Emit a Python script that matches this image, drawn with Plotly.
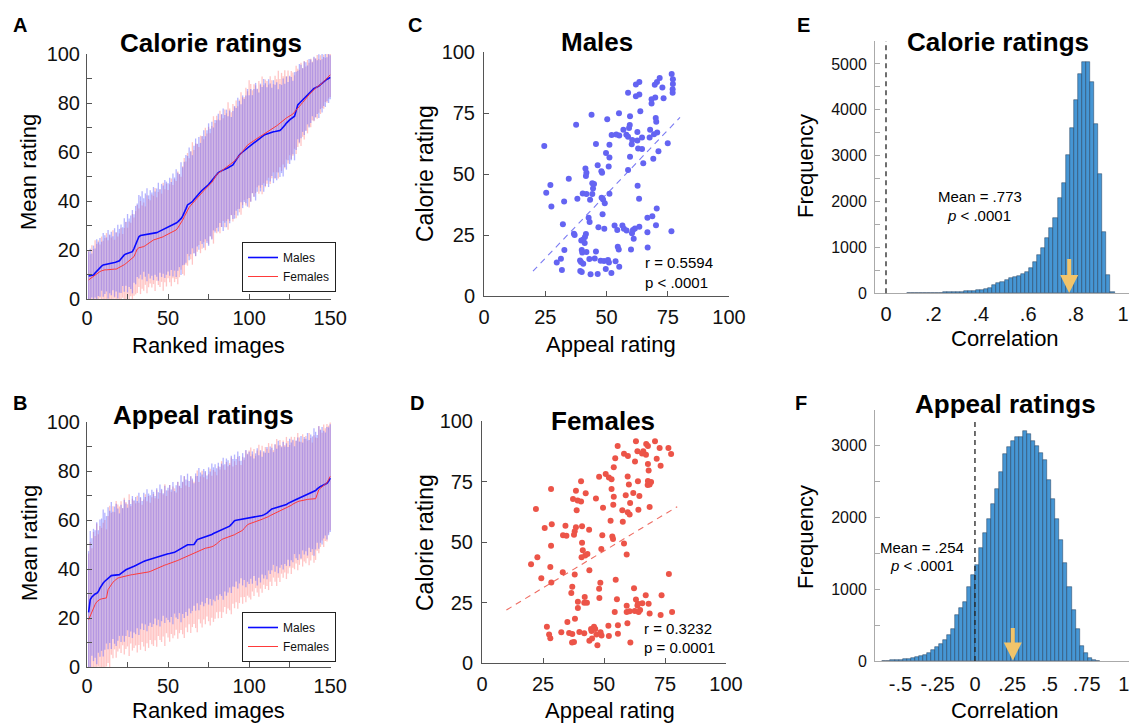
import plotly.graph_objects as go

# ---------------- DATA ----------------
# Panel A: calorie ratings, ranked images (mean and SD per image)
calorie_males_mean = [
    9.4, 9.5, 9.6, 9.8, 10.6, 11.4, 12.2, 12.9, 13.4, 13.9,
    14.0, 14.1, 14.2, 14.3, 14.5, 14.6, 14.9, 15.1, 15.3, 15.6,
    16.4, 17.3, 18.0, 18.4, 18.7, 18.9, 19.1, 19.3, 20.6, 22.0,
    24.0, 25.4, 25.9, 26.0, 26.1, 26.1, 26.2, 26.3, 26.4, 26.5,
    26.7, 26.9, 27.1, 27.4, 27.7, 28.0, 28.3, 28.6, 28.9, 29.2,
    29.5, 29.8, 30.2, 30.6, 31.0, 31.5, 32.0, 32.8, 33.8, 35.0,
    36.8, 38.4, 38.8, 39.3, 39.7, 40.6, 41.5, 42.4, 43.1, 43.7,
    44.4, 44.9, 45.4, 45.9, 46.7, 47.5, 48.3, 49.0, 50.1, 51.0,
    51.6, 52.0, 52.4, 52.8, 53.1, 53.3, 53.6, 53.9, 54.3, 54.7,
    55.8, 57.0, 58.1, 58.8, 59.5, 60.1, 60.6, 61.1, 61.7, 62.2,
    62.7, 63.2, 63.7, 64.2, 64.8, 65.3, 65.9, 66.5, 66.8, 67.1,
    67.4, 67.7, 68.0, 68.2, 68.3, 68.4, 68.5, 68.6, 68.8, 69.4,
    70.0, 70.9, 71.8, 72.6, 73.1, 73.6, 74.1, 74.6, 76.8, 79.2,
    79.9, 80.6, 81.2, 81.9, 82.6, 83.3, 84.0, 84.8, 85.6, 85.9,
    86.2, 86.5, 86.9, 87.5, 88.1, 88.8, 89.4, 89.7, 90.0, 90.5]
calorie_females_mean = [
    7.8, 8.3, 8.9, 9.4, 10.0, 10.5, 10.9, 11.2, 11.5, 11.8,
    11.9, 11.9, 12.0, 12.0, 12.1, 12.1, 12.2, 12.2, 12.5, 12.8,
    13.1, 13.5, 14.0, 14.5, 15.1, 15.6, 16.1, 16.7, 17.3, 18.9,
    20.4, 20.9, 21.0, 21.2, 21.4, 21.8, 22.3, 22.8, 23.3, 23.7,
    24.1, 24.3, 24.5, 24.7, 24.9, 25.0, 25.4, 25.8, 26.1, 26.5,
    26.8, 27.2, 27.5, 27.9, 28.2, 29.0, 29.9, 30.9, 32.2, 33.6,
    35.1, 36.6, 37.4, 38.2, 39.0, 39.8, 40.5, 41.3, 42.0, 42.7,
    43.5, 44.2, 44.9, 45.6, 46.3, 46.7, 47.6, 48.6, 49.8, 50.8,
    51.3, 51.8, 52.4, 52.8, 53.3, 53.8, 54.3, 54.8, 55.2, 55.6,
    56.3, 57.0, 57.7, 58.4, 59.4, 60.3, 61.3, 62.2, 62.8, 63.3,
    63.8, 64.2, 64.7, 65.2, 65.6, 66.0, 66.4, 66.8, 67.2, 67.6,
    68.0, 68.5, 68.9, 69.3, 69.7, 70.1, 70.7, 71.2, 71.8, 72.3,
    72.9, 73.4, 73.9, 74.3, 74.7, 75.1, 75.5, 76.3, 77.2, 78.0,
    78.5, 79.4, 80.2, 81.1, 81.9, 82.6, 83.4, 84.1, 84.9, 85.6,
    86.1, 86.6, 87.0, 87.5, 88.0, 88.7, 89.4, 90.1, 90.8, 91.5]
calorie_males_sd = [
    10, 11, 9, 12, 10, 13, 11, 12, 10, 13,
    12, 11, 14, 12, 13, 11, 14, 12, 15, 13,
    14, 12, 15, 13, 16, 14, 15, 17, 14, 16,
    15, 17, 16, 18, 15, 17, 19, 16, 18, 17,
    19, 17, 18, 20, 17, 19, 18, 20, 19, 18,
    20, 18, 21, 19, 22, 20, 19, 23, 20, 21,
    22, 20, 23, 21, 19, 22, 24, 21, 23, 20,
    22, 24, 21, 23, 25, 22, 24, 21, 23, 22,
    24, 21, 23, 25, 22, 24, 21, 23, 20, 22,
    23, 21, 24, 22, 20, 23, 21, 22, 24, 21,
    23, 20, 22, 24, 21, 19, 22, 20, 23, 21,
    19, 22, 20, 18, 21, 19, 20, 17, 19, 18,
    20, 17, 19, 16, 18, 17, 15, 18, 16, 14,
    16, 15, 13, 15, 14, 12, 14, 13, 11, 13,
    12, 11, 13, 10, 12, 10, 11, 9, 10, 9]
calorie_females_sd = [
    12, 10, 13, 11, 14, 12, 13, 11, 14, 12,
    13, 15, 12, 14, 13, 16, 12, 15, 13, 14,
    16, 13, 15, 17, 14, 16, 15, 18, 16, 17,
    18, 16, 19, 17, 18, 16, 20, 18, 17, 19,
    18, 21, 17, 19, 20, 18, 22, 19, 21, 18,
    20, 22, 19, 21, 20, 23, 21, 19, 22, 24,
    21, 23, 20, 22, 25, 21, 23, 22, 20, 24,
    23, 21, 25, 22, 24, 21, 23, 26, 22, 24,
    22, 25, 23, 21, 24, 22, 26, 23, 21, 24,
    22, 24, 21, 23, 25, 22, 21, 24, 22, 26,
    24, 21, 23, 22, 20, 23, 21, 24, 20, 22,
    21, 19, 22, 20, 18, 21, 19, 22, 18, 20,
    18, 20, 17, 19, 16, 18, 17, 15, 18, 16,
    15, 17, 14, 16, 13, 15, 13, 14, 12, 13,
    12, 13, 11, 12, 10, 11, 9, 10, 9, 9]

# Panel B: appeal ratings, ranked images
appeal_males_mean = [
    22.3, 27.5, 28.6, 29.4, 29.8, 30.1, 30.8, 32.2, 33.6, 34.3,
    35.0, 35.6, 36.2, 36.8, 37.3, 37.4, 37.5, 37.6, 37.7, 37.7,
    38.2, 38.8, 39.3, 39.7, 40.0, 40.2, 40.5, 40.8, 41.1, 41.4,
    41.8, 42.1, 42.4, 42.8, 43.1, 43.4, 43.6, 43.8, 44.1, 44.3,
    44.5, 44.8, 45.0, 45.3, 45.5, 45.7, 45.9, 46.0, 46.1, 46.2,
    46.3, 46.4, 46.5, 46.8, 47.2, 47.6, 48.0, 48.3, 48.6, 49.0,
    49.5, 49.9, 49.9, 49.9, 49.9, 50.0, 51.0, 52.0, 52.2, 52.4,
    52.6, 52.8, 53.0, 53.2, 53.5, 53.8, 54.1, 54.5, 54.8, 55.1,
    55.4, 55.7, 56.0, 56.4, 56.8, 57.1, 57.4, 57.5, 58.2, 58.9,
    59.7, 59.9, 60.0, 60.1, 60.2, 60.3, 60.5, 60.6, 60.8, 60.9,
    61.0, 61.0, 61.1, 61.2, 61.3, 61.4, 61.5, 61.8, 62.1, 62.4,
    62.8, 63.4, 64.0, 64.5, 64.7, 64.9, 65.1, 65.3, 65.5, 65.7,
    65.8, 66.0, 66.3, 66.8, 67.2, 67.6, 67.8, 68.1, 68.4, 68.7,
    69.0, 69.3, 69.6, 69.9, 70.2, 70.5, 70.7, 70.9, 71.1, 71.4,
    72.0, 72.7, 73.3, 73.7, 74.0, 74.4, 74.7, 75.0, 75.8, 77.1]
appeal_females_mean = [
    19.3, 21.0, 22.5, 24.1, 25.5, 26.6, 27.2, 27.6, 27.8, 27.9,
    28.0, 28.2, 31.6, 32.8, 34.0, 34.6, 35.2, 35.8, 36.3, 36.5,
    36.7, 36.9, 37.1, 37.3, 37.4, 37.5, 37.6, 37.7, 37.8, 37.8,
    37.9, 38.0, 38.0, 38.2, 38.4, 38.5, 38.7, 38.8, 39.0, 39.3,
    39.6, 39.9, 40.3, 40.7, 41.0, 41.2, 41.4, 41.6, 41.8, 42.0,
    42.3, 42.5, 42.7, 42.9, 43.2, 43.5, 43.8, 44.1, 44.4, 44.8,
    45.1, 45.2, 45.5, 45.9, 46.3, 46.6, 46.9, 47.2, 47.5, 47.8,
    48.1, 48.4, 48.5, 48.6, 48.7, 48.9, 49.1, 49.4, 49.7, 50.3,
    50.9, 51.6, 52.0, 52.3, 52.5, 52.7, 52.9, 53.2, 53.5, 53.8,
    54.0, 54.4, 54.8, 55.1, 55.5, 55.8, 56.6, 57.4, 58.1, 58.4,
    58.6, 58.8, 59.0, 59.2, 59.4, 59.7, 60.0, 60.3, 60.6, 60.8,
    61.1, 61.4, 61.8, 62.1, 62.5, 62.8, 63.1, 63.4, 63.7, 64.1,
    64.4, 64.6, 64.9, 65.2, 65.6, 66.0, 66.5, 66.9, 67.2, 67.5,
    67.7, 67.9, 68.0, 68.1, 68.3, 68.4, 68.5, 68.5, 68.6, 68.6,
    68.7, 70.5, 72.4, 73.0, 73.6, 74.0, 74.4, 75.2, 76.5, 77.8]
appeal_males_sd = [
    25, 28, 24, 27, 26, 29, 25, 28, 27, 30,
    28, 26, 29, 27, 30, 26, 28, 29, 27, 25,
    28, 26, 29, 27, 25, 28, 26, 29, 27, 28,
    26, 29, 27, 25, 28, 26, 29, 27, 26, 28,
    27, 25, 28, 26, 29, 27, 25, 28, 26, 27,
    28, 26, 29, 25, 27, 28, 26, 30, 27, 29,
    27, 29, 26, 28, 27, 25, 28, 26, 29, 27,
    26, 28, 27, 25, 28, 26, 29, 27, 28, 26,
    28, 26, 27, 29, 26, 28, 27, 25, 28, 26,
    27, 25, 28, 26, 24, 27, 25, 28, 26, 27,
    25, 27, 24, 26, 28, 25, 27, 24, 26, 25,
    27, 24, 26, 25, 23, 26, 24, 27, 25, 24,
    26, 24, 25, 23, 26, 24, 25, 22, 24, 25,
    23, 25, 22, 24, 23, 25, 22, 24, 23, 26,
    24, 22, 25, 23, 24, 22, 21, 23, 22, 22]
appeal_females_sd = [
    27, 30, 26, 31, 28, 32, 27, 30, 29, 31,
    32, 28, 30, 33, 29, 31, 28, 32, 30, 29,
    31, 28, 32, 30, 29, 33, 28, 31, 30, 29,
    32, 29, 31, 28, 30, 32, 29, 31, 28, 30,
    31, 29, 32, 28, 30, 31, 29, 33, 28, 30,
    32, 29, 31, 30, 28, 32, 30, 29, 31, 33,
    29, 31, 28, 32, 30, 29, 31, 33, 28, 30,
    32, 29, 31, 28, 30, 32, 29, 31, 30, 28,
    31, 29, 32, 30, 28, 31, 29, 30, 32, 28,
    30, 28, 31, 29, 27, 30, 28, 31, 29, 30,
    31, 28, 30, 27, 29, 31, 28, 30, 27, 29,
    28, 30, 27, 29, 26, 28, 30, 27, 29, 26,
    28, 26, 29, 27, 25, 28, 26, 27, 25, 28,
    26, 24, 27, 25, 26, 24, 27, 25, 23, 26,
    25, 23, 26, 24, 22, 25, 23, 24, 22, 22]
image_rank = list(range(1, 151))

# Panel C: males, (appeal, calorie) per image
males_points = [
    (76.6, 91.0), (77.1, 88.8), (77.1, 86.9), (77.0, 84.7), (77.0, 83.3),
    (71.7, 89.3), (70.6, 87.7), (69.7, 86.6), (72.8, 85.5), (63.4, 87.7),
    (62.0, 86.7), (58.8, 83.3), (63.4, 82.6), (62.0, 81.9), (69.9, 81.4),
    (68.4, 80.6), (68.4, 78.9), (73.3, 81.0), (63.8, 75.7), (55.1, 74.9),
    (43.9, 74.3), (50.3, 72.4), (37.6, 70.2), (59.6, 73.7), (70.1, 73.0),
    (70.3, 71.4), (59.5, 70.1), (59.2, 68.9), (56.9, 68.1), (55.2, 65.8),
    (52.1, 66.0), (58.1, 66.1), (58.8, 65.3), (62.6, 67.2), (64.5, 65.0),
    (67.8, 68.1), (70.7, 67.0), (69.4, 66.3), (60.5, 63.9), (62.6, 63.7),
    (45.7, 62.3), (51.2, 62.0), (24.6, 61.5), (60.3, 62.2), (62.9, 60.4),
    (64.5, 60.2), (75.0, 62.6), (71.2, 59.3), (49.8, 58.6), (51.2, 56.8),
    (59.6, 57.1), (69.1, 56.3), (65.0, 54.4), (46.4, 53.6), (50.9, 53.1),
    (58.8, 51.6), (41.4, 52.3), (41.8, 50.5), (47.9, 51.1), (48.2, 50.5),
    (41.6, 49.2), (34.6, 48.1), (27.1, 45.5), (44.2, 46.2), (44.9, 45.9),
    (62.7, 45.2), (25.4, 42.3), (44.5, 44.1), (40.3, 42.0), (41.8, 41.8),
    (44.2, 41.8), (38.1, 39.9), (43.3, 39.4), (48.0, 40.3), (48.6, 39.6),
    (51.2, 41.9), (63.3, 39.9), (32.7, 38.7), (49.3, 38.0), (27.5, 36.7),
    (42.7, 32.1), (43.1, 30.3), (48.4, 33.5), (70.5, 35.9), (66.7, 32.1),
    (68.7, 32.7), (32.2, 29.4), (46.7, 28.2), (49.1, 27.6), (53.3, 28.9),
    (54.4, 27.0), (56.5, 28.9), (57.1, 27.6), (58.2, 26.8), (60.8, 27.0),
    (61.6, 27.7), (60.4, 25.7), (61.1, 23.5), (63.4, 28.4), (66.7, 26.1),
    (70.2, 29.0), (76.5, 26.5), (36.7, 25.5), (37.0, 25.0), (41.6, 25.4),
    (41.2, 24.2), (40.5, 23.2), (39.7, 22.7), (32.8, 18.9), (39.9, 18.9),
    (40.1, 17.8), (41.8, 18.0), (45.7, 18.2), (54.6, 20.2), (55.0, 19.1),
    (60.0, 19.1), (66.8, 19.9), (31.4, 15.3), (29.7, 13.7), (31.8, 10.7),
    (39.2, 14.6), (39.6, 13.9), (40.5, 13.2), (43.0, 15.2), (45.2, 15.4),
    (47.6, 14.4), (49.0, 14.3), (50.6, 14.8), (51.0, 13.7), (53.7, 14.2),
    (55.2, 12.0), (49.7, 11.1), (52.0, 9.4), (39.3, 10.2), (39.9, 9.8),
    (43.5, 8.9), (46.4, 9.0), (41.1, 21.7), (67.6, 65.0), (54.0, 66.2)]
males_fit_x = [20, 80]
males_fit_y = [10.2, 73.2]

# Panel D: females, (appeal, calorie) per image
females_points = [
    (63.1, 91.6), (55.6, 89.7), (67.3, 90.5), (68.0, 89.7), (70.9, 91.6),
    (76.4, 88.8), (77.5, 86.4), (72.8, 88.8), (63.7, 87.5), (66.1, 87.5),
    (65.6, 86.6), (67.2, 86.1), (58.2, 86.5), (59.8, 85.5), (54.6, 84.6),
    (62.7, 83.3), (68.0, 82.2), (71.6, 84.4), (73.2, 81.5), (54.0, 80.9),
    (68.3, 79.5), (50.7, 78.1), (48.0, 77.0), (52.0, 76.7), (53.1, 75.9),
    (59.7, 77.1), (63.9, 75.1), (68.0, 75.2), (69.3, 74.8), (68.7, 73.8),
    (67.9, 73.6), (40.6, 75.1), (60.2, 73.8), (53.1, 71.9), (28.3, 71.9),
    (38.5, 71.2), (42.5, 70.1), (37.3, 67.8), (39.2, 67.1), (40.6, 66.7),
    (46.7, 68.0), (54.0, 68.7), (58.9, 69.3), (62.0, 70.2), (64.5, 69.0),
    (53.8, 65.4), (60.7, 66.1), (49.6, 64.2), (57.5, 63.1), (59.7, 62.3),
    (60.5, 61.4), (64.1, 63.3), (68.7, 64.5), (38.8, 63.1), (22.1, 63.6),
    (52.7, 58.8), (57.7, 58.4), (25.7, 55.8), (28.6, 57.3), (34.2, 56.7),
    (38.5, 56.1), (41.0, 56.5), (43.9, 55.1), (33.2, 52.8), (34.6, 52.6),
    (38.0, 54.4), (37.7, 53.0), (49.3, 52.8), (53.4, 52.3), (53.7, 51.2),
    (41.0, 49.7), (58.2, 49.4), (28.3, 48.5), (41.3, 46.6), (48.9, 47.1),
    (59.3, 44.8), (43.2, 45.0), (42.3, 44.4), (40.8, 43.7), (22.7, 43.7),
    (20.1, 40.8), (28.0, 39.7), (33.1, 37.5), (38.0, 36.6), (44.0, 38.3),
    (24.3, 35.0), (28.4, 33.3), (48.5, 33.2), (54.8, 34.4), (76.6, 36.8),
    (37.0, 31.5), (48.0, 30.7), (62.3, 30.9), (36.6, 28.9), (42.1, 27.3),
    (39.3, 25.3), (41.9, 24.9), (43.0, 24.9), (48.1, 26.9), (55.3, 26.3),
    (63.1, 26.2), (67.1, 28.0), (73.6, 28.0), (59.3, 23.7), (63.9, 24.5),
    (65.7, 24.7), (63.7, 23.8), (68.3, 24.5), (39.3, 22.7), (54.4, 21.1),
    (59.3, 21.1), (60.5, 21.4), (62.6, 21.5), (64.8, 21.9), (64.2, 21.1),
    (68.7, 20.5), (73.2, 19.8), (77.9, 21.1), (35.0, 16.9), (38.1, 18.3),
    (26.6, 15.0), (45.9, 15.0), (44.7, 14.1), (44.9, 13.2), (51.8, 15.4),
    (55.7, 15.6), (59.6, 16.4), (27.5, 11.8), (28.0, 10.2), (32.5, 12.7),
    (35.7, 12.4), (37.0, 12.0), (39.9, 12.8), (41.9, 12.3), (46.4, 14.0),
    (46.9, 11.8), (48.6, 12.7), (49.0, 11.4), (52.0, 11.2), (55.7, 12.1),
    (44.0, 9.2), (45.1, 10.1), (47.3, 7.3), (36.9, 8.5), (37.7, 8.7),
    (60.8, 8.5)]
females_fit_x = [10, 80]
females_fit_y = [21.9, 64.6]

# Panel E: permutation correlations, calorie ratings
calorie_bin_start = 0.0872
calorie_bin_width = 0.0172
calorie_counts = [
    2, 3, 4, 5, 7, 9, 11, 13, 16, 19, 22, 26, 30, 35, 40, 46, 53, 62,
    73, 87, 109, 182, 225, 254, 291, 327, 349, 385, 421, 472, 560, 690,
    836, 996, 1214, 1432, 1650, 2071, 2405, 3016, 3612, 4215, 4782, 5051,
    5051, 4615, 3684, 2594, 1344, 400, 25]
calorie_mean_r = 0.773

# Panel F: permutation correlations, appeal ratings
appeal_bin_start = -0.621
appeal_bin_width = 0.027
appeal_counts = [
    3, 5, 8, 12, 17, 24, 32, 42, 55, 70, 90, 115, 150, 190, 235, 290, 360,
    449, 646, 740, 819, 1034, 1195, 1333, 1570, 1778, 1986, 2195, 2403,
    2634, 2890, 2990, 3070, 3130, 3130, 3210, 3167, 3070, 3005, 2898, 2797,
    2519, 2264, 1986, 1694, 1361, 1037, 713, 444, 204, 111, 42, 18, 5]
appeal_mean_r = 0.254

# ---------------- FIGURE ----------------
W, H = 1129, 724
FONT = "Liberation Sans"

def xd(a, b):
    return [a / W, min(b / W, 1.0)]

def yd(top, bottom):
    return [1 - bottom / H, 1 - top / H]

BLUE_BAR = "rgba(105,105,255,0.50)"
RED_BAR = "rgba(255,110,110,0.40)"
BLUE_LINE = "#0a0aff"
RED_LINE = "#ff3a3a"
PT_BLUE = "#6464f2"
PT_RED = "#ec5448"
HIST_FILL = "rgb(70,150,212)"
HIST_EDGE = "rgba(30,55,85,0.8)"
ARROW = "#f2c46a"

fig = go.Figure()

def rank_panel(xa, ya, m_mean, m_sd, f_mean, f_sd, legend):
    fig.add_trace(go.Scatter(x=image_rank, y=f_mean, mode="markers",
                             marker=dict(size=1, opacity=0),
                             error_y=dict(type="data", array=f_sd, visible=True,
                                          color=RED_BAR, thickness=1.3, width=0),
                             showlegend=False, hoverinfo="skip",
                             xaxis=xa, yaxis=ya))
    fig.add_trace(go.Scatter(x=image_rank, y=m_mean, mode="markers",
                             marker=dict(size=1, opacity=0),
                             error_y=dict(type="data", array=m_sd, visible=True,
                                          color=BLUE_BAR, thickness=1.3, width=0),
                             showlegend=False, hoverinfo="skip",
                             xaxis=xa, yaxis=ya))
    fig.add_trace(go.Scatter(x=image_rank, y=m_mean, mode="lines", name="Males",
                             line=dict(color=BLUE_LINE, width=1.6),
                             xaxis=xa, yaxis=ya, legend=legend))
    fig.add_trace(go.Scatter(x=image_rank, y=f_mean, mode="lines", name="Females",
                             line=dict(color=RED_LINE, width=1.0),
                             xaxis=xa, yaxis=ya, legend=legend))

rank_panel("x", "y", calorie_males_mean, calorie_males_sd,
           calorie_females_mean, calorie_females_sd, "legend")
rank_panel("x2", "y2", appeal_males_mean, appeal_males_sd,
           appeal_females_mean, appeal_females_sd, "legend2")

def scatter_panel(xa, ya, pts, color, fit_x, fit_y):
    fig.add_trace(go.Scatter(x=[p[0] for p in pts], y=[p[1] for p in pts],
                             mode="markers", marker=dict(size=6, color=color),
                             showlegend=False, xaxis=xa, yaxis=ya))
    fig.add_trace(go.Scatter(x=fit_x, y=fit_y, mode="lines",
                             line=dict(color=color, width=1.1, dash="6px,5px"),
                             opacity=0.85, showlegend=False, xaxis=xa, yaxis=ya))

scatter_panel("x3", "y3", males_points, PT_BLUE, males_fit_x, males_fit_y)
scatter_panel("x4", "y4", females_points, PT_RED, females_fit_x, females_fit_y)

def hist_panel(xa, ya, start, width, counts):
    centers = [start + width * (i + 0.5) for i in range(len(counts))]
    fig.add_trace(go.Bar(x=centers, y=counts, width=width,
                         marker=dict(color=HIST_FILL,
                                     line=dict(color=HIST_EDGE, width=0.6)),
                         showlegend=False, xaxis=xa, yaxis=ya))

hist_panel("x5", "y5", calorie_bin_start, calorie_bin_width, calorie_counts)
hist_panel("x6", "y6", appeal_bin_start, appeal_bin_width, appeal_counts)

TICKF = dict(family=FONT, size=20, color="#111")

def axis(domain, anchor, rng, color="#555", tickvals=None, ticktext=None,
         minor=None, ticks="inside", tickfont=None, standoff=None):
    d = dict(domain=domain, anchor=anchor, range=rng, showline=True,
             linecolor=color, linewidth=1, ticks=ticks, ticklen=5,
             tickcolor=color, showgrid=False, zeroline=False,
             tickfont=tickfont or TICKF, fixedrange=True, automargin=False,
             ticklabeloverflow="allow")
    if tickvals is not None:
        d["tickvals"] = tickvals
    if ticktext is not None:
        d["ticktext"] = ticktext
    if minor is not None:
        d["minor"] = dict(tickvals=minor, ticks="inside", ticklen=5,
                          tickcolor=color, showgrid=False)
    if standoff is not None:
        d["ticklabelstandoff"] = standoff
    return d

# panel geometry (pixels)
A_x, A_y = xd(87, 331), yd(54, 299)
B_x, B_y = xd(87, 331), yd(422, 667)
C_x, C_y = xd(484, 729), yd(52, 296)
D_x, D_y = xd(482, 726), yd(421, 663)
E_x, E_y = xd(875, 1129), yd(41, 293.3)
F_x, F_y = xd(875, 1129), yd(410, 661)

rank_xt = [0, 50, 100, 150]
rank_xm = [25, 75, 125]
rank_yt = [0, 20, 40, 60, 80, 100]
rank_ym = [10, 30, 50, 70, 90]
sc_t = [0, 25, 50, 75, 100]

fig.update_layout(
    xaxis=axis(A_x, "y", [0, 150.5], tickvals=rank_xt, minor=rank_xm, standoff=1),
    yaxis=axis(A_y, "x", [0, 100], tickvals=rank_yt, minor=rank_ym, standoff=2),
    xaxis2=axis(B_x, "y2", [0, 150.5], tickvals=rank_xt, minor=rank_xm, standoff=1),
    yaxis2=axis(B_y, "x2", [0, 100], tickvals=rank_yt, minor=rank_ym, standoff=2),
    xaxis3=axis(C_x, "y3", [0, 100], tickvals=sc_t, standoff=3),
    yaxis3=axis(C_y, "x3", [0, 100], tickvals=sc_t, standoff=4),
    xaxis4=axis(D_x, "y4", [0, 100], tickvals=sc_t, standoff=3),
    yaxis4=axis(D_y, "x4", [0, 100], tickvals=sc_t, standoff=4),
    xaxis5=axis(E_x, "y5", [-0.0464, 1.0253], color="#aaa",
                tickvals=[0, 0.2, 0.4, 0.6, 0.8, 1.0],
                ticktext=["0", ".2", ".4", ".6", ".8", "1"], ticks="",
                standoff=3),
    yaxis5=axis(E_y, "x5", [0, 5500], color="#aaa",
                tickvals=[0, 1000, 2000, 3000, 4000, 5000],
                minor=[500, 1500, 2500, 3500, 4500, 5500],
                tickfont=dict(family=FONT, size=16, color="#111"), standoff=4),
    xaxis6=axis(F_x, "y6", [-0.671, 1.034], color="#aaa",
                tickvals=[-0.5, -0.25, 0, 0.25, 0.5, 0.75, 1.0],
                ticktext=["-.5", "-.25", "0", ".25", ".5", ".75", "1"], ticks="",
                standoff=5),
    yaxis6=axis(F_y, "x6", [0, 3500], color="#aaa",
                tickvals=[0, 1000, 2000, 3000],
                minor=[500, 1500, 2500, 3500],
                tickfont=dict(family=FONT, size=16, color="#111"), standoff=4),
)

legend_style = dict(bgcolor="white", bordercolor="#222", borderwidth=1,
                    font=dict(family=FONT, size=12, color="#111"),
                    xanchor="left", yanchor="top", tracegroupgap=0,
                    itemwidth=30, traceorder="normal")
fig.update_layout(
    legend=dict(x=242 / W, y=1 - 242 / H, **legend_style),
    legend2=dict(x=242 / W, y=1 - 612 / H, **legend_style),
)

# dashed zero lines on histograms
for xa, ya, top in (("x5", "y5", 1.0), ("x6", "y6", 0.96)):
    fig.add_shape(type="line", xref=xa, yref=ya + " domain", x0=0, x1=0,
                  y0=0, y1=top, line=dict(color="#222", width=1.3, dash="5px,4px"))

# mean arrows
for xa, ya, xm, tail in (("x5", "y5", calorie_mean_r, 780),
                         ("x6", "y6", appeal_mean_r, 480)):
    fig.add_annotation(x=xm, y=8, ax=xm, ay=tail, xref=xa, yref=ya,
                       axref=xa, ayref=ya, text="", showarrow=True,
                       arrowhead=2, arrowsize=0.9, arrowwidth=4,
                       arrowcolor=ARROW)

def label(text, x, y, size, bold=False, angle=0, anchor="center"):
    t = f"<b>{text}</b>" if bold else text
    fig.add_annotation(text=t, x=x / W, y=1 - y / H, xref="paper", yref="paper",
                       showarrow=False, xanchor=anchor, yanchor="middle",
                       textangle=angle,
                       font=dict(family=FONT, size=size, color="#000"))

# panel letters
for t, x, y in (("A", 20, 25), ("B", 20, 403), ("C", 415, 25), ("D", 417, 403),
                ("E", 803, 25), ("F", 801, 403)):
    label(t, x, y, 20, bold=True)

# titles
label("Calorie ratings", 211, 43, 26, bold=True)
label("Appeal ratings", 204, 415, 26, bold=True)
label("Males", 597, 42, 26, bold=True)
label("Females", 603, 421, 26, bold=True)
label("Calorie ratings", 998, 42, 26, bold=True)
label("Appeal ratings", 1005, 404, 26, bold=True)

# axis titles
label("Mean rating", 29, 172, 22, angle=-90)
label("Mean rating", 29, 543, 22, angle=-90)
label("Ranked images", 208, 345, 22)
label("Ranked images", 208, 710, 22)
label("Calorie rating", 425, 174, 23, angle=-90)
label("Calorie rating", 425, 543, 23, angle=-90)
label("Appeal rating", 611, 344, 22)
label("Appeal rating", 610, 710, 22)
label("Frequency", 805, 166, 22, angle=-90)
label("Frequency", 805, 537, 22, angle=-90)
label("Correlation", 1005, 339, 22)
label("Correlation", 1005, 710, 22)

# stats text
label("r = 0.5594", 643, 262, 15, anchor="left")
label("p < .0001", 643, 282, 15, anchor="left")
label("r = 0.3232", 642, 628, 15, anchor="left")
label("p = 0.0001", 642, 647, 15, anchor="left")
label("Mean = .773", 980, 197, 15)
label("<i>p</i> < .0001", 979, 215, 15)
label("Mean = .254", 922, 547, 15)
label("<i>p</i> < .0001", 922, 565, 15)

fig.update_layout(width=W, height=H, margin=dict(l=0, r=0, t=0, b=0),
                  paper_bgcolor="white", plot_bgcolor="white",
                  bargap=0, barmode="overlay",
                  font=dict(family=FONT, color="#111"))

fig.write_html("out.html", config={"displayModeBar": False},
               post_script="document.body.style.margin='0';")
